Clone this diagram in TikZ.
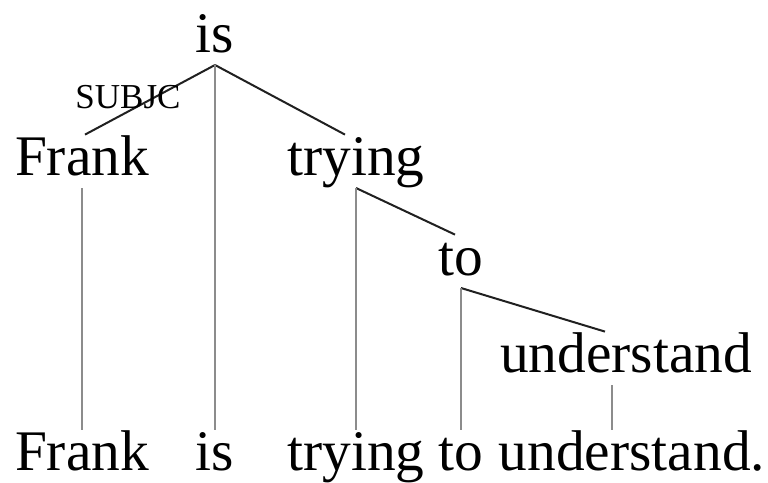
\documentclass[tikz,border=0pt]{standalone}
\usepackage{fontspec}
\setmainfont{Liberation Serif}
\usepackage{xcolor}
\definecolor{edgeGray}{HTML}{202020}
\definecolor{projGray}{HTML}{8C8C8C}
\tikzset{
    word/.style={
        anchor=base,
        inner sep=0pt,
        font=\fontsize{28.7}{34}\selectfont,
        text height=20pt,
        text depth=6.3pt
    },
    deplabel/.style={
        inner sep=0pt,
        font=\fontsize{17.5}{20}\selectfont
    },
    dep/.style={draw=edgeGray,line width=1pt},
    proj/.style={draw=projGray,line width=1pt}
}

\begin{document}
\begin{tikzpicture}[x=0.5pt,y=-0.5pt]
    \useasboundingbox (0,0) rectangle (768,483);

    % tree
    \node[word] (is) at (215,52) {is};
    \node[word] (Frank) at (82,175) {Frank};
    \node[word] (trying) at (356,175) {trying};
    \node[word] (to) at (461,275) {to};
    \node[word] (understand) at (626,372) {understand};

    % sentence
    \node[word] (Frankw) at (82,470) {Frank};
    \node[word] (isw) at (215,470) {is};
    \node[word] (tryingw) at (356,470) {trying};
    \node[word] (tow) at (461,470) {to};
    \node[word] (understandw) at (632,470) {understand.};

    \draw[dep] (is.south) -- ([xshift=1.5pt]Frank.north);
    \node[deplabel] (subj) at (128,97) {SUBJC};
    \draw[dep] (is.south) -- ([xshift=-5.5pt]trying.north);
    \draw[dep] (trying.south) -- ([xshift=-3pt]to.north);
    \draw[dep] (to.south) -- ([xshift=-10.5pt]understand.north);

    \draw[proj] (Frank.south) -- (Frankw.north);
    \draw[proj] (is.south) -- (isw.north);
    \draw[proj] (trying.south) -- (tryingw.north);
    \draw[proj] (to.south) -- (tow.north);
    \draw[proj] ([xshift=-7pt]understand.south) -- ([xshift=-7pt]understandw.north -| understand.south);
\end{tikzpicture}
\end{document}
